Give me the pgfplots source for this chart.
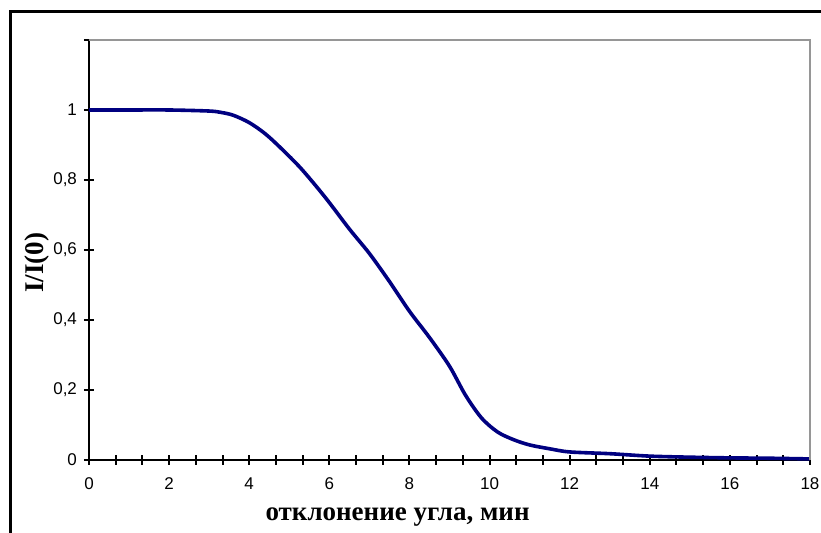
\documentclass[border=0pt]{standalone}
\usepackage{fontspec}
\setmainfont{Liberation Serif}
\setsansfont{Liberation Sans}
\usepackage{pgfplots}
\pgfplotsset{compat=1.18}

\definecolor{curve}{RGB}{0,0,128}
\definecolor{frame}{RGB}{150,150,150}

\begin{document}
\begin{tikzpicture}
% picture = 821 x 533 px, 1 px = 0.5pt
\useasboundingbox (0,0) rectangle (410.5pt,266.5pt);
\begin{scope}
\clip (0,0) rectangle (410.5pt,266.5pt);
\draw[line width=1.5pt] (5pt,-5pt) -- (5pt,260.5pt) -- (420pt,260.5pt);
\end{scope}
\begin{axis}[
    at={(44.5pt,36.5pt)}, anchor=south west,
    scale only axis,
    width=360.5pt, height=210pt,
    xmin=0, xmax=18, ymin=0, ymax=1.2,
    axis x line*=bottom, axis y line*=left,
    axis line style={line width=1pt, -},
    xtick={0,2,...,18},
    xticklabels={0,2,4,6,8,10,12,14,16,18},
    minor x tick num=2,
    ytick={0,0.2,0.4,0.6,0.8,1,1.2},
    yticklabels={0,{0,2},{0,4},{0,6},{0,8},1,},
    tick align=center,
    major tick length=5pt, minor tick length=5pt,
    every tick/.style={black, line width=1pt},
    tick label style={font=\sffamily\fontsize{8.5}{10}\selectfont},
    /pgf/number format/assume math mode=true,
    xticklabel style={yshift=-3pt},
    yticklabel style={xshift=0pt},
    xlabel={отклонение угла, мин},
    ylabel={I/I(0)},
    label style={font=\bfseries\fontsize{13.5}{15}\selectfont},
    xlabel style={at={(rel axis cs:0.428,0)}, anchor=center, yshift=-28.5pt},
    ylabel style={at={(rel axis cs:0,0.47)}, anchor=center, yshift=26pt},
    clip=false,
]
\addplot[curve, line width=1.8pt, smooth] coordinates {
(0,1) (1,1) (2,1) (3,0.997) (3.3,0.993) (3.6,0.985) (4.0,0.964)
(4.4,0.932) (4.8,0.89) (5.3,0.832) (5.9,0.75) (6.5,0.66) (7.0,0.59)
(7.5,0.51) (8.0,0.425) (8.5,0.35) (9.0,0.268) (9.4,0.185) (9.8,0.12)
(10.2,0.08) (10.6,0.058) (11.0,0.043) (11.5,0.032) (12,0.023) (13,0.018)
(14,0.011) (15,0.008) (16,0.006) (17,0.005) (18,0.003)
};
\draw[frame, line width=1pt] (rel axis cs:0,1) -- (rel axis cs:1,1) -- (rel axis cs:1,0);
\end{axis}
\end{tikzpicture}
\end{document}
